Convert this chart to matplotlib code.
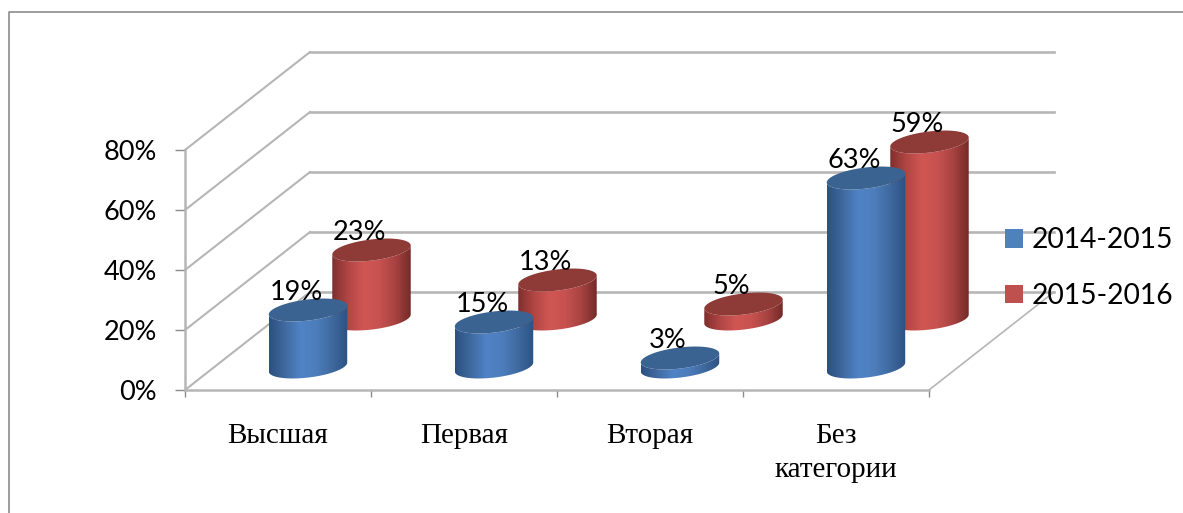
import numpy as np
import matplotlib
matplotlib.use('Agg')
import matplotlib.pyplot as plt
from matplotlib.colors import LinearSegmentedColormap
from matplotlib.lines import Line2D
from matplotlib.patches import Patch, Polygon

categories = ['Высшая', 'Первая', 'Вторая', 'Без\nкатегории']
series_names = ['2014-2015', '2015-2016']
values_2014 = [19, 15, 3, 63]
values_2015 = [23, 13, 5, 59]
y_ticks = [0, 20, 40, 60, 80]

W, H = 1183, 513
LEFT, RIGHT, BOTTOM, TOP = 185, 929, 390, 150
PX_X = (RIGHT - LEFT) / 4   # pixels per category
PX_Y = (BOTTOM - TOP) / 80  # pixels per percent

# 3d look: depth of the back wall, in data units
DEPTH_X = 125 / PX_X
DEPTH_Y = 98 / PX_Y
GRID = '#b6b6b6'

plt.rcParams['font.family'] = ['Lato', 'DejaVu Sans']

fig = plt.figure(figsize=(W / 100, H / 100), dpi=100)
ax = fig.add_axes([LEFT / W, 1 - BOTTOM / H, (RIGHT - LEFT) / W, (BOTTOM - TOP) / H])
ax.set_xlim(0, 4)
ax.set_ylim(0, 80)
ax.patch.set_visible(False)

ax.spines['top'].set_visible(False)
ax.spines['right'].set_visible(False)
ax.spines['left'].set_color(GRID)
ax.spines['bottom'].set_color(GRID)
ax.spines['left'].set_linewidth(1.8)
ax.spines['bottom'].set_linewidth(1.8)

ax.set_yticks(y_ticks)
ax.set_yticklabels(['%d%%' % v for v in y_ticks], fontsize=19.5)
ax.tick_params(axis='y', length=7.2, width=1, color='#8c8c8c', pad=13)
ax.set_xticks(range(5))
ax.set_xticklabels([])
ax.tick_params(axis='x', which='major', length=5, width=1, color='#8c8c8c')
ax.set_xticks(np.arange(len(categories)) + 0.5, minor=True)
ax.set_xticklabels(categories, minor=True, fontsize=21, family='Liberation Serif',
                   linespacing=1.38)
ax.tick_params(axis='x', which='minor', length=0, pad=24)

# walls and floor
for v in y_ticks:
    ax.plot([0, DEPTH_X], [v, v + DEPTH_Y], color=GRID, lw=1.5, clip_on=False, zorder=1)
    ax.plot([DEPTH_X, 4 + DEPTH_X], [v + DEPTH_Y, v + DEPTH_Y], color=GRID, lw=1.9,
            clip_on=False, zorder=1)
ax.plot([4, 4 + DEPTH_X], [0, DEPTH_Y], color=GRID, lw=1.2, clip_on=False, zorder=1)


def ellipse(cx, cy):
    # tilted ellipse in pixels, handed back as data units
    rx, ry, tilt = 39.5, 10.5, np.radians(7)
    t = np.linspace(0, 2 * np.pi, 181)[:-1]
    dx = rx * np.cos(t) * np.cos(tilt) - ry * np.sin(t) * np.sin(tilt)
    dy = rx * np.cos(t) * np.sin(tilt) + ry * np.sin(t) * np.cos(tilt)
    return np.column_stack([cx + dx / PX_X, cy + dy / PX_Y])


def lower_arc(pts):
    # from the left-most point to the right-most one, underneath
    a, b = pts[:, 0].argmin(), pts[:, 0].argmax()
    idx = np.arange(a, a + (b - a) % len(pts) + 1) % len(pts)
    return pts[idx]


def cylinder(x, base, value, body_colors, top_color, z):
    cmap = LinearSegmentedColormap.from_list('body', body_colors)
    low = lower_arc(ellipse(x, base))
    high = lower_arc(ellipse(x, base + value))
    body = Polygon(np.vstack([low, high[::-1]]), closed=True, fc='none', ec='none', zorder=z)
    ax.add_patch(body)
    body.set_clip_on(False)
    grad = np.linspace(0, 1, 200).reshape(1, -1)
    im = ax.imshow(grad, cmap=cmap, aspect='auto', zorder=z, interpolation='bilinear',
                   extent=[low[:, 0].min(), low[:, 0].max(), base - 5, base + value + 5])
    im.set_clip_box(fig.bbox)
    im.set_clip_path(body)
    ax.add_patch(Polygon(ellipse(x, base + value), closed=True, fc=top_color, ec='none',
                         zorder=z + 0.1, clip_on=False))
    ax.annotate('%d%%' % value, (x, base + value), xytext=(-12, 17),
                textcoords='offset pixels', ha='center', va='center', fontsize=19.5,
                color='black', zorder=10, annotation_clip=False)


BLUE = ['#2c5180', '#40699f', '#5083c6', '#4d7dbb', '#3f6a9f', '#2d5283']
RED = ['#7f2f2d', '#b04644', '#d05653', '#c75250', '#a84341', '#742b29']
BLUE_TOP = '#3b6391'
RED_TOP = '#8e3a37'

# red row stands behind the blue one
for i, v in enumerate(values_2015):
    cylinder(i + 186.5 / PX_X, 71 / PX_Y, v, RED, RED_TOP, 3)
for i, v in enumerate(values_2014):
    cylinder(i + 123 / PX_X, 23 / PX_Y, v, BLUE, BLUE_TOP, 5)

ax.set_xlim(0, 4)
ax.set_ylim(0, 80)

handles = [Patch(fc='#4f81bd', ec='none'), Patch(fc='#c0504d', ec='none')]
fig.legend(handles, series_names, loc='center left', bbox_to_anchor=(1005 / W, 1 - 268 / H),
           frameon=False, fontsize=20.3, handlelength=0.64, handleheight=0.64,
           handletextpad=0.32, labelspacing=1.05, borderpad=0, borderaxespad=0)

# outer chart frame, only left and top show in the crop
fig.add_artist(Line2D([9 / W, 9 / W, 1], [0, 1 - 12 / H, 1 - 12 / H],
                      color='#8c8c8c', lw=1.2, transform=fig.transFigure))

fig.savefig('out.png', dpi=100)
